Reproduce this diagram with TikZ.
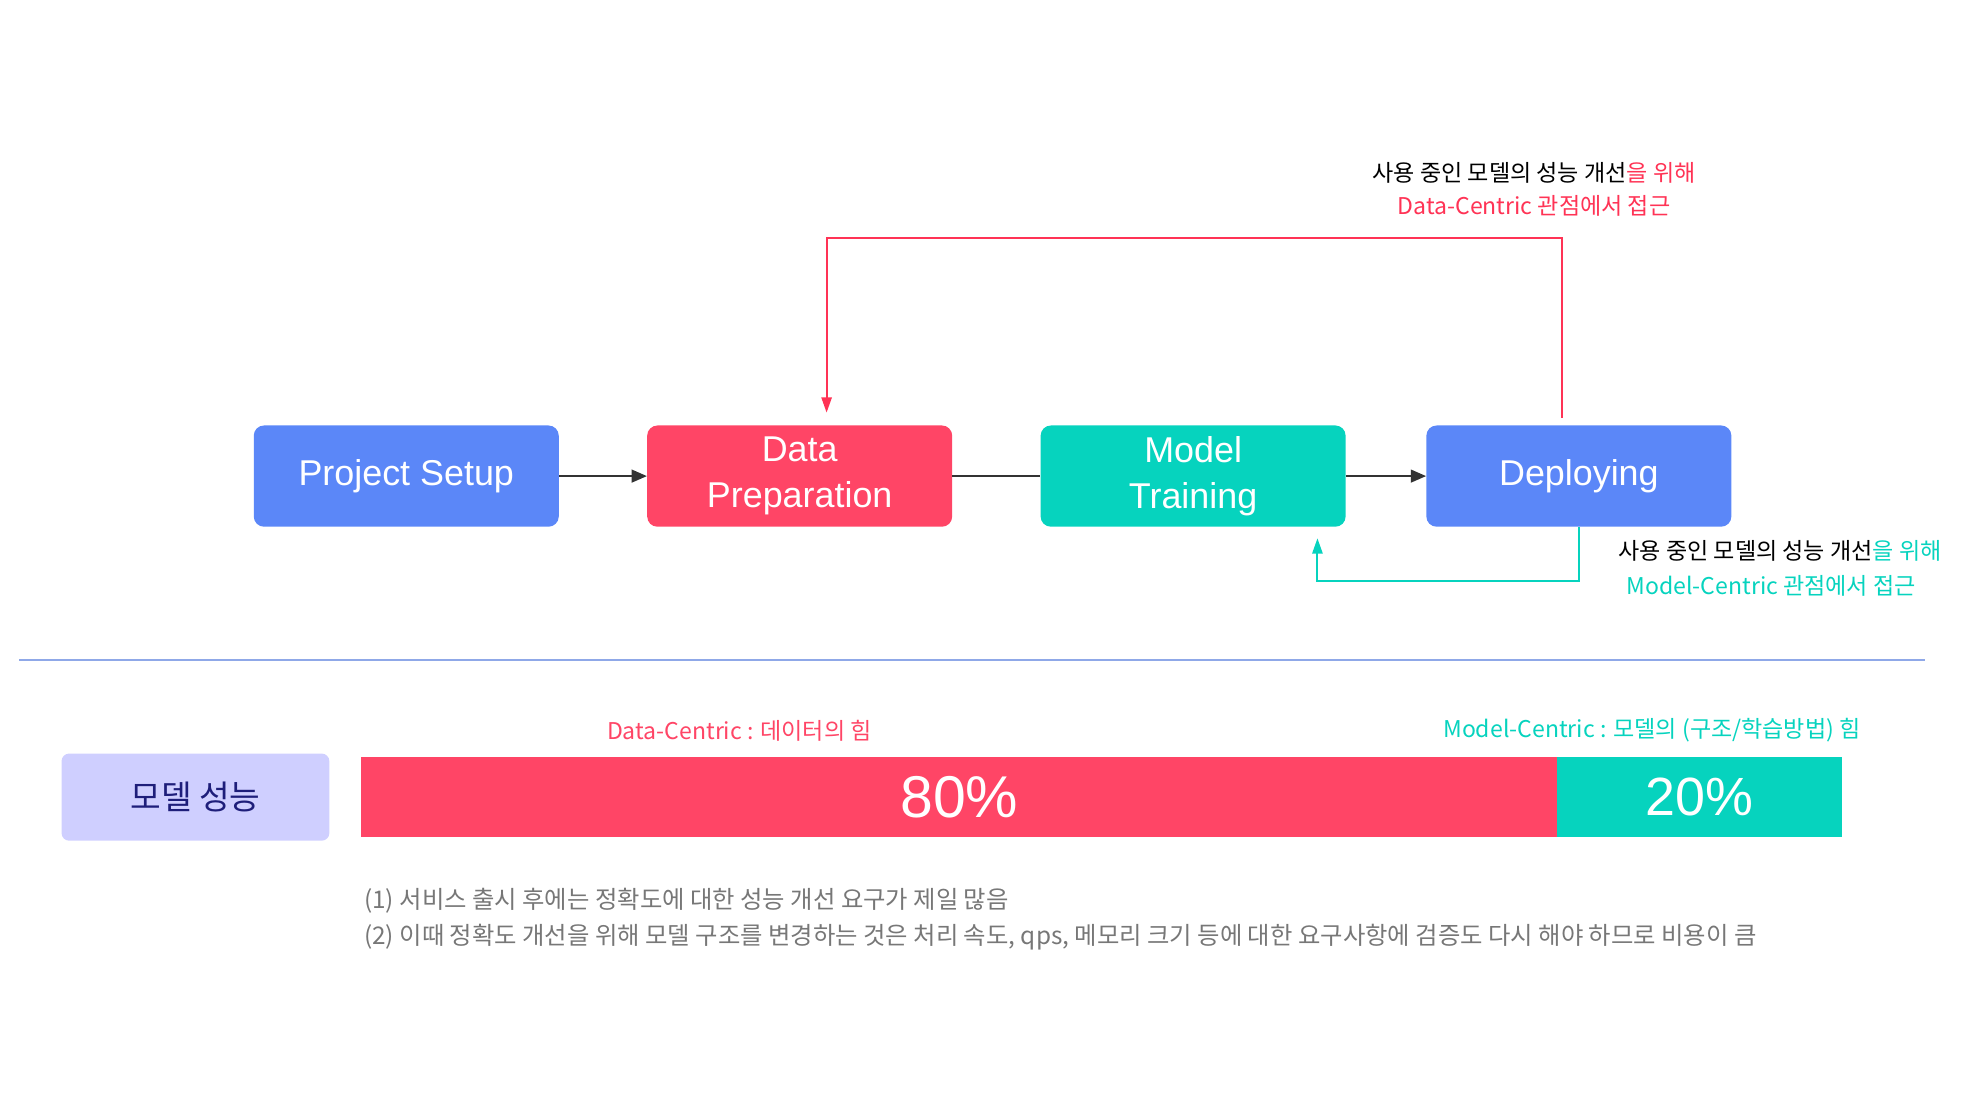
\documentclass[tikz,border=0pt]{standalone}
\usepackage{fontspec}
\setmainfont{Noto Sans CJK KR}
\newfontfamily\lat{Liberation Sans}
\usetikzlibrary{arrows.meta}
\definecolor{cblue}{HTML}{5B87F8}
\definecolor{cred}{HTML}{FF4566}
\definecolor{cteal}{HTML}{06D3BE}
\definecolor{lred}{HTML}{FF3355}
\definecolor{gtxt}{HTML}{777777}
\begin{document}
\begin{tikzpicture}[x=1pt,y=-1pt,
  box/.style={rounded corners=8pt,minimum width=238pt,minimum height=79pt,text=white,font=\lat\fontsize{28}{36}\selectfont,align=center,inner sep=0pt},
  flow/.style={draw=black!80,line width=1.6pt},
  lab/.style={font=\fontsize{18}{22}\selectfont,inner sep=0pt}]
\useasboundingbox (0,0) rectangle (1545,858);
\node[box,fill=cblue] (ps) at (317,371.5) {Project Setup};
\node[box,fill=cred] (dp) at (624,371.5) {Data\\Preparation};
\node[box,fill=cteal] (mt) at (931,371.5) {Model\\Training};
\node[box,fill=cblue] (dep) at (1232,371.5) {Deploying};
\draw[flow,-{Triangle[length=12pt,width=10pt]}] (ps) -- (dp);
\draw[flow] (dp) -- (mt);
\draw[flow,-{Triangle[length=12pt,width=10pt]}] (mt) -- (dep);
\coordinate (r1) at (1219,326);
\coordinate (r2) at (645,322);
\draw[lred,line width=1.6pt,-{Triangle[length=12pt,width=8pt]}] (r1) -- (1219,186) -- (645,186) -- (r2);
\coordinate (t1) at (1232,411.5);
\coordinate (t2) at (1028,420);
\draw[cteal,line width=1.6pt,-{Triangle[length=12pt,width=8pt]}] (t1) -- (1232,453) -- (1028,453) -- (t2);
\node[lab] (l1) at (1197,135) {사용 중인 모델의 성능 개선\textcolor{lred}{을 위해}};
\node[lab,text=lred] (l2) at (1197,161) {Data-Centric 관점에서 접근};
\node[lab] (l3) at (1389,430) {사용 중인 모델의 성능 개선\textcolor{cteal}{을 위해}};
\node[lab,text=cteal] (l4) at (1382,457) {Model-Centric 관점에서 접근};
\draw[color={rgb,255:red,143;green,168;blue,232},line width=1.5pt] (15,515) -- (1502,515);
\node[fill={rgb,255:red,207;green,207;blue,255},rounded corners=6pt,minimum width=209pt,minimum height=68pt,inner sep=0pt,text={rgb,255:red,30;green,30;blue,122},font=\fontsize{26}{30}\selectfont] (perf) at (152.5,622) {모델 성능};
\fill[cred] (282,591) rectangle (1215,653);
\fill[cteal] (1215,591) rectangle (1437,653);
\node[text=white,font=\lat\fontsize{46}{50}\selectfont] (p80) at (748.5,622) {80\%};
\node[text=white,font=\lat\fontsize{42}{50}\selectfont] (p20) at (1326,622) {20\%};
\node[lab,text=cred] (dc) at (577,570) {Data-Centric : 데이터의 힘};
\node[lab,text=cteal] (mc) at (1289,570) {Model-Centric : 모델의 (구조/학습방법) 힘};
\node[lab,anchor=west,text=gtxt,font=\fontsize{19}{23}\selectfont] (n1) at (284,703) {(1) 서비스 출시 후에는 정확도에 대한 성능 개선 요구가 제일 많음};
\node[lab,anchor=west,text=gtxt,font=\fontsize{19}{23}\selectfont] (n2) at (284,731) {(2) 이때 정확도 개선을 위해 모델 구조를 변경하는 것은 처리 속도, qps, 메모리 크기 등에 대한 요구사항에 검증도 다시 해야 하므로 비용이 큼};
\end{tikzpicture}
\end{document}
